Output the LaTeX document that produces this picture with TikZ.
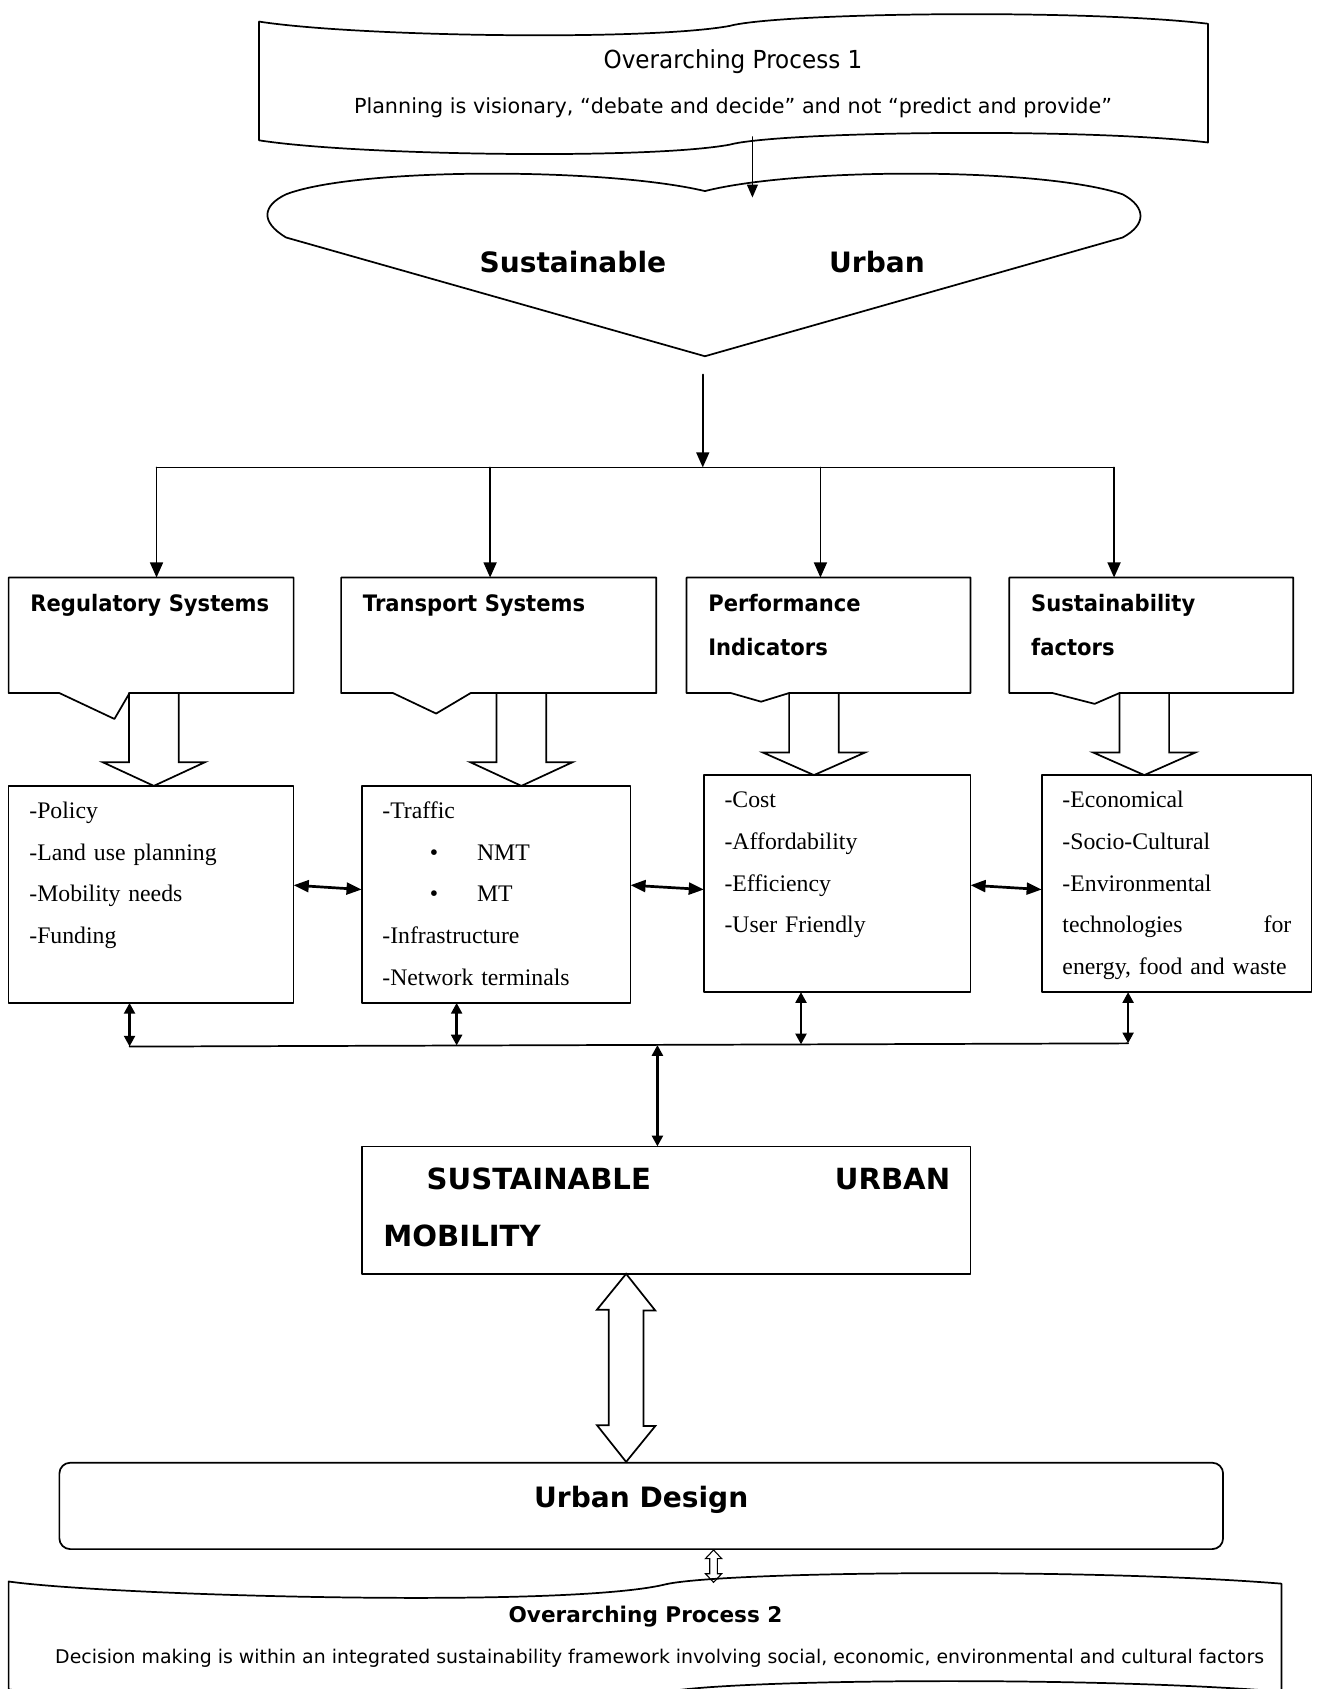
\documentclass[tikz,border=0pt]{standalone}
\usepackage{fontspec}
\setmainfont{Liberation Serif}
\setsansfont{DejaVu Sans}
\newfontfamily\condsans[FakeStretch=0.93]{DejaVu Sans}
\usetikzlibrary{arrows.meta,calc}
\def\shaft{23}
\def\headw{47.5}
\def\boxlw{1.6pt}
\tikzset{
  line/.style={line width=\boxlw},
  hdbox/.style={inner sep=0pt,outer sep=0pt,anchor=north west,minimum height=107pt},
  lbox/.style={draw,line width=\boxlw,inner sep=0pt,outer sep=0pt,anchor=north west,minimum height=201pt},
  head/.style={font=\condsans\bfseries\fontsize{21}{41}\selectfont,text width=240pt,align=left,inner sep=0pt,anchor=base west},
  items/.style={font=\fontsize{22}{38.7}\selectfont,text width=212pt,align=left,inner sep=0pt,anchor=base west},
  hollow/.style={line width=\boxlw,line join=miter},
  down/.style={-{Triangle[length=14pt,width=12pt]},line width=\boxlw},
  both/.style={{Triangle[length=14pt,width=11pt]}-{Triangle[length=14pt,width=11pt]},line width=2.5pt},
  bothv/.style={{Triangle[length=10pt,width=10pt]}-{Triangle[length=10pt,width=10pt]},line width=2.5pt}
}

\begin{document}
\begin{tikzpicture}[x=1pt,y=-1pt,line cap=round,line join=round]
\useasboundingbox (0,0) rectangle (1220,1564.6);
% overarching process 1
\draw[line] (240,20) .. controls (330,34) and (600,38) .. (676,24)
  .. controls (720,12) and (1000,8) .. (1119,22) -- (1119,132)
  .. controls (1000,118) and (720,122) .. (676,134)
  .. controls (600,148) and (330,144) .. (240,130) -- cycle;
\node[font=\condsans\fontsize{23}{26}\selectfont] (op1) at (679,57) {Overarching Process 1};
\node[font=\sffamily\fontsize{19.2}{23}\selectfont] (op1-txt) at (679,100) {Planning is visionary, “debate and decide” and not “predict and provide”};
% sustainable urban
\draw[line] (265,220) .. controls (240,205) and (244,190) .. (265,180)
  .. controls (330,155) and (560,155) .. (653,177)
  .. controls (740,155) and (965,155) .. (1040,180)
  .. controls (1062,192) and (1062,208) .. (1040,220) -- (653,330) -- cycle;
\node[font=\sffamily\bfseries\fontsize{26}{30}\selectfont] (su) at (650.5,243) {Sustainable\hspace{151pt}Urban};
\coordinate (op1-out) at (697,127);
\coordinate (su-in) at (697,183);
\draw[line,-{Triangle[length=12pt,width=10pt]}] (op1-out) -- (su-in);

% four callouts
\foreach \nm/\bx/\bw/\pl/\px/\py/\pr/\ttl in {%
  reg/8/264/55/106/666/120/{Regulatory Systems},%
  tra/316/292/364/404/661/436/{Transport Systems},%
  per/636/263/677/705/650/731/{Performance\\Indicators},%
  sus/935/263/975/1014/652/1037/{Sustainability\\factors}}{%
  \node[hdbox,minimum width=\bw pt] (\nm) at (\bx,535) {};
  \draw[line] (\nm.south west) -- (\nm.north west) -- (\nm.north east) -- (\nm.south east)
    -- (\pr,642) -- (\px,\py) -- (\pl,642) -- cycle;
  \node[head] (\nm-hd) at (\bx+20,566) {\ttl};
}
\coordinate (su-out) at (651,347);
\coordinate (t0) at (651,433);
\coordinate (t1) at (145,433);
\coordinate (t2) at (454,433);
\coordinate (t3) at (760,433);
\coordinate (t4) at (1032,433);
\draw[line] (t1) -- (t4);
\draw[down] (su-out) -- (t0);
\foreach \t/\nm in {t1/reg,t2/tra,t3/per,t4/sus}
  \draw[down] (\t) -- (\t |- \nm.north);

% block arrows
\foreach \x/\hy/\ty in {142.5/706/728,483/706/728,754/697/718,1060/697/718}{
  \draw[hollow] (\x-\shaft,642) -- (\x-\shaft,\hy) -- (\x-\headw,\hy) -- (\x,\ty)
    -- (\x+\headw,\hy) -- (\x+\shaft,\hy) -- (\x+\shaft,642);
}

% lists
\foreach \nm/\bx/\by/\bw/\ttl in {%
  reg-l/8/728/264/{-Policy\\-Land use planning\\-Mobility needs\\-Funding},%
  tra-l/335/728/249/{-Traffic\\\hspace*{44pt}\textbullet\hspace{36pt}NMT\\\hspace*{44pt}\textbullet\hspace{36pt}MT\\-Infrastructure\\-Network terminals},%
  per-l/652/718/247/{-Cost\\-Affordability\\-Efficiency\\-User Friendly},%
  sus-l/965/718/250/{-Economical\\-Socio-Cultural\\-Environmental\\technologies\hfill for\\energy, food and waste}}{%
  \node[lbox,minimum width=\bw pt] (\nm) at (\bx,\by) {};
  \node[items] (\nm-txt) at (\bx+19,\by+30) {\ttl};
}
\draw[both] ([yshift=8.5pt]reg-l.east) -- ([yshift=4.5pt]tra-l.west);
\draw[both] ([yshift=8.5pt]tra-l.east) -- ([yshift=-5.5pt]per-l.west);
\draw[both] ([yshift=-1.5pt]per-l.east) -- ([yshift=-5.5pt]sus-l.west);

% lower bus
\coordinate (b0) at (609,968);
\coordinate (b1) at (120,969.5);
\coordinate (b2) at (423,968.5);
\coordinate (b3) at (742,967.5);
\coordinate (b4) at (1045,966.5);
\draw[line] (b1) -- (b4);
\foreach \b/\nm in {b1/reg-l,b2/tra-l,b3/per-l,b4/sus-l}
  \draw[bothv] (\b) -- (\b |- \nm.south);

% sustainable urban mobility
\node[lbox,minimum width=564pt,minimum height=118pt] (sum) at (335,1062) {};
\node[font=\sffamily\bfseries\fontsize{27}{53}\selectfont,text width=525pt,align=left,inner sep=0pt,anchor=base west]
  (sum-txt) at (355,1102) {\hspace*{40pt}SUSTAINABLE\hfill URBAN\\MOBILITY};
\draw[bothv] (b0) -- (b0 |- sum.north);

% urban design
\node[draw,line width=\boxlw,rounded corners=10pt,minimum width=1078pt,minimum height=80pt,inner sep=0pt,
  font=\sffamily\bfseries\fontsize{26}{30}\selectfont] (ud) at (594,1395) {\raisebox{-1.5pt}[0pt][0pt]{Urban Design}};
\coordinate (ua) at (sum.south -| 580,0);
\coordinate (ub) at (ud.north -| 580,0);
\draw[hollow] (ua) -- ++(27,34) -- ++(-11,0) -- ++(0,107) -- ++(11,0) -- (ub)
  -- ++(-27,-34) -- ++(11,0) -- ++(0,-107) -- ++(-11,0) -- cycle;

% overarching process 2
\draw[line] (8,1465) .. controls (100,1478) and (520,1490) .. (615,1468)
  .. controls (660,1456) and (1000,1452) .. (1187,1467) -- (1187,1567)
  .. controls (1000,1552) and (660,1556) .. (615,1568)
  .. controls (520,1590) and (100,1578) .. (8,1565) -- cycle;
\node[font=\sffamily\bfseries\fontsize{20}{24}\selectfont] (op2) at (598,1498) {Overarching Process 2};
\node[font=\sffamily\fontsize{17.5}{21}\selectfont] (op2-txt) at (611,1536) {Decision making is within an integrated sustainability framework involving social, economic, environmental and cultural factors};
\coordinate (us) at (ud.south -| 661,0);
\draw[hollow,line width=1pt] (us) -- ++(7.5,8) -- ++(-4,0) -- ++(0,14) -- ++(4,0) -- ++(-7.5,8)
  -- ++(-7.5,-8) -- ++(4,0) -- ++(0,-14) -- ++(-4,0) -- cycle;
\end{tikzpicture}
\end{document}
